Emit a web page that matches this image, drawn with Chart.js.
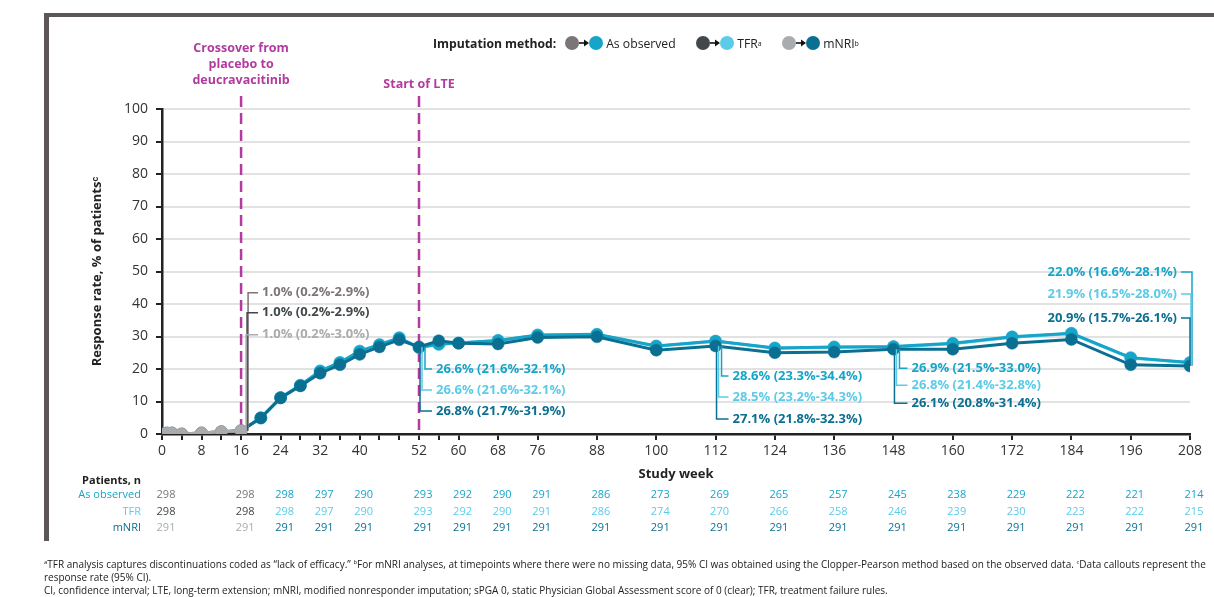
<!DOCTYPE html>
<html>
<head>
<meta charset="utf-8">
<script src="https://cdn.jsdelivr.net/npm/chart.js@4.4.1/dist/chart.umd.min.js"></script>
<style>
  body { margin: 0; background: #fff; font-family: "Open Sans", sans-serif; }
  #wrap { position: relative; width: 1214px; height: 597px; overflow: hidden; }
  #frameTop { position: absolute; left: 44px; top: 13px; width: 1170px; height: 4px; background: #5d5656; }
  #frameLeft { position: absolute; left: 44px; top: 13px; width: 5px; height: 528px; background: #5d5656; }
  canvas { position: absolute; left: 0; top: 0; }
  #legend { position: absolute; left: 433px; top: 34px; height: 18px; font-size: 12.2px; color: #222; white-space: nowrap; }
  #legend .item { position: absolute; top: 0; display: flex; align-items: center; height: 18px; }
  #legend i { display: inline-block; width: 14px; height: 14px; border-radius: 50%; }
  #legend sup { font-size: 7px; vertical-align: 6px; }
  #notes { position: absolute; left: 44px; top: 556px; width: 1170px; font-size: 10px; line-height: 13.2px; color: #222; white-space: nowrap; }
  #notes sup { font-size: 6px; vertical-align: 4px; }
</style>
</head>
<body>
<div id="wrap">
  <div id="frameTop"></div>
  <div id="frameLeft"></div>
  <canvas id="chart" width="1214" height="597"></canvas>
  <div id="legend">
    <span class="item" style="left:0"><b>Imputation method:</b></span>
    <span class="item" style="left:132px"><i style="background:#7b7575"></i><svg width="10" height="8"><line x1="0" y1="4" x2="6" y2="4" stroke="#111" stroke-width="1.6"/><path d="M5 0.5 L10 4 L5 7.5z" fill="#111"/></svg><i style="background:#16a5c9"></i>&nbsp;As observed</span>
    <span class="item" style="left:263px"><i style="background:#42484a"></i><svg width="10" height="8"><line x1="0" y1="4" x2="6" y2="4" stroke="#111" stroke-width="1.6"/><path d="M5 0.5 L10 4 L5 7.5z" fill="#111"/></svg><i style="background:#5ccbe8"></i>&nbsp;TFR<sup>a</sup></span>
    <span class="item" style="left:349px"><i style="background:#a8acae"></i><svg width="10" height="8"><line x1="0" y1="4" x2="6" y2="4" stroke="#111" stroke-width="1.6"/><path d="M5 0.5 L10 4 L5 7.5z" fill="#111"/></svg><i style="background:#0b6f91"></i>&nbsp;mNRI<sup>b</sup></span>
  </div>
  <div id="notes">
    <sup>a</sup>TFR analysis captures discontinuations coded as “lack of efficacy.” <sup>b</sup>For mNRI analyses, at timepoints where there were no missing data, 95% CI was obtained using the Clopper-Pearson method based on the observed data. <sup>c</sup>Data callouts represent the<br>
    response rate (95% CI).<br>
    CI, confidence interval; LTE, long-term extension; mNRI, modified nonresponder imputation; sPGA 0, static Physician Global Assessment score of 0 (clear); TFR, treatment failure rules.
  </div>
</div>
<script>
// placebo phase (weeks 0-16)
const placeboWeeks = [0, 1, 2, 4, 8, 12, 16];
const placeboObserved = [0, 0.3, 0.3, 0, 0.3, 0.7, 1.0];
const placeboTFR = [0, 0.3, 0.3, 0, 0.3, 0.7, 1.0];
const placeboNRI = [0, 0.3, 0.3, 0, 0.3, 0.7, 1.0];

// deucravacitinib phase (weeks 16-208)
const treatWeeks = [16, 20, 24, 28, 32, 36, 40, 44, 48, 52, 56, 60, 68, 76, 88, 100, 112, 124, 136, 148, 160, 172, 184, 196, 208];
const treatObserved = [1.0, 5.0, 11.2, 15.0, 19.4, 22.0, 25.5, 27.5, 29.6, 26.6, 27.6, 28.0, 28.8, 30.5, 30.7, 27.1, 28.6, 26.5, 26.8, 26.9, 27.9, 29.9, 31.0, 23.5, 22.0];
const treatTFR = [1.0, 5.0, 11.2, 15.0, 19.4, 22.0, 25.5, 27.5, 29.6, 26.6, 27.6, 28.0, 28.8, 30.4, 30.6, 27.0, 28.5, 26.4, 26.7, 26.8, 27.8, 29.8, 30.9, 23.4, 21.9];
const treatNRI = [1.0, 4.9, 11.1, 14.8, 18.7, 21.3, 24.5, 26.8, 29.0, 26.8, 28.7, 27.9, 27.7, 29.7, 29.9, 25.8, 27.1, 25.0, 25.2, 26.1, 26.1, 27.9, 29.1, 21.3, 20.9];

// axis ticks
const tickWeeks = [0, 4, 8, 12, 16, 20, 24, 28, 32, 36, 40, 44, 48, 52, 56, 60, 68, 76, 88, 100, 112, 124, 136, 148, 160, 172, 184, 196, 208];
const labelWeeks = [0, 8, 16, 24, 32, 40, 52, 60, 68, 76, 88, 100, 112, 124, 136, 148, 160, 172, 184, 196, 208];

// callouts
const calloutWeeks = [16, 52, 112, 148, 208];
const calloutObserved = ['1.0% (0.2%-2.9%)', '26.6% (21.6%-32.1%)', '28.6% (23.3%-34.4%)', '26.9% (21.5%-33.0%)', '22.0% (16.6%-28.1%)'];
const calloutTFR = ['1.0% (0.2%-2.9%)', '26.6% (21.6%-32.1%)', '28.5% (23.2%-34.3%)', '26.8% (21.4%-32.8%)', '21.9% (16.5%-28.0%)'];
const calloutNRI = ['1.0% (0.2%-3.0%)', '26.8% (21.7%-31.9%)', '27.1% (21.8%-32.3%)', '26.1% (20.8%-31.4%)', '20.9% (15.7%-26.1%)'];

// patients, n
const patientWeeks = [0, 16, 24, 32, 40, 52, 60, 68, 76, 88, 100, 112, 124, 136, 148, 160, 172, 184, 196, 208];
const patientsObserved = [298, 298, 298, 297, 290, 293, 292, 290, 291, 286, 273, 269, 265, 257, 245, 238, 229, 222, 221, 214];
const patientsTFR = [298, 298, 298, 297, 290, 293, 292, 290, 291, 286, 274, 270, 266, 258, 246, 239, 230, 223, 222, 215];
const patientsNRI = [291, 291, 291, 291, 291, 291, 291, 291, 291, 291, 291, 291, 291, 291, 291, 291, 291, 291, 291, 291];

const phaseWeeks = [16, 52];
const phaseLabels = [['Crossover from', 'placebo to', 'deucravacitinib'], ['Start of LTE']];

const BLUE = '#16a5c9', LIGHT = '#5ccbe8', DARK = '#0b6f91';
const GREY1 = '#7b7575', GREY2 = '#42484a', GREY3 = '#a8acae';
const MAGENTA = '#b33a9e';
const FONT = '"Open Sans", sans-serif';

function pts(xs, ys) {
  return xs.map((w, i) => ({x: w, y: ys[i]}));
}

function series(label, xs, ys, color, order, hideFirst) {
  return {
    label: label,
    data: pts(xs, ys),
    borderColor: color,
    backgroundColor: color,
    pointBackgroundColor: color,
    pointBorderColor: color,
    borderWidth: 3,
    pointRadius: ctx => (hideFirst && ctx.dataIndex === 0) ? 0 : 6,
    pointBorderWidth: 0.5,
    order: order
  };
}

const phasePlugin = {
  id: 'phases',
  beforeDatasetsDraw(chart) {
    const {ctx, scales: {x}, chartArea} = chart;
    ctx.save();
    ctx.strokeStyle = MAGENTA;
    ctx.lineWidth = 2.5;
    ctx.setLineDash([11, 6]);
    phaseWeeks.forEach(w => {
      const px = x.getPixelForValue(w);
      ctx.beginPath();
      ctx.moveTo(px, 96);
      ctx.lineTo(px, chartArea.bottom);
      ctx.stroke();
    });
    ctx.setLineDash([]);
    ctx.fillStyle = MAGENTA;
    ctx.font = 'bold 12.5px ' + FONT;
    ctx.textAlign = 'center';
    ctx.textBaseline = 'middle';
    phaseLabels.forEach((lines, k) => {
      const px = x.getPixelForValue(phaseWeeks[k]);
      const bottom = k === 0 ? 80 : 84;
      lines.forEach((t, i) => ctx.fillText(t, px, bottom - (lines.length - 1 - i) * 16));
    });
    ctx.restore();
  }
};

// label offsets from the mNRI point, in pixels
const calloutLayout = [
  {dx: 21, dys: [-138, -118, -96], vx: [7, 6, 5]},
  {dx: 17, dys: [22, 43, 64], vx: [6, 3, 1]},
  {dx: 17, dys: [30, 51, 73], vx: [6, 3, 1]},
  {dx: 18, dys: [19, 36, 54], vx: [6, 3, 1]},
  {dx: -13, dys: [-94, -72, -48], vx: [2, 1, 0]}
];

const calloutPlugin = {
  id: 'callouts',
  afterDatasetsDraw(chart) {
    const {ctx, scales: {x, y}} = chart;
    ctx.save();
    ctx.font = 'bold 13px ' + FONT;
    ctx.textBaseline = 'middle';
    ctx.lineWidth = 1.5;
    calloutWeeks.forEach((w, k) => {
      const lay = calloutLayout[k];
      const idx = treatWeeks.indexOf(w);
      const px = x.getPixelForValue(w);
      const py = y.getPixelForValue(treatNRI[idx]);
      const texts = [calloutObserved[k], calloutTFR[k], calloutNRI[k]];
      const colors = w <= 16 ? [GREY1, GREY2, GREY3] : [BLUE, LIGHT, DARK];
      const tx = px + lay.dx;
      const right = lay.dx > 0;
      ctx.textAlign = right ? 'left' : 'right';
      texts.forEach((t, i) => {
        const ly = py + lay.dys[i];
        ctx.strokeStyle = colors[i];
        ctx.beginPath();
        ctx.moveTo(px + lay.vx[i], py);
        ctx.lineTo(px + lay.vx[i], ly);
        ctx.lineTo(right ? tx - 4 : tx + 4, ly);
        ctx.stroke();
        ctx.fillStyle = colors[i];
        ctx.fillText(t, tx, ly);
      });
    });
    ctx.restore();
  },
  afterDraw(chart) {
    // patients table
    const {ctx, scales: {x}} = chart;
    ctx.save();
    ctx.textBaseline = 'middle';
    ctx.textAlign = 'right';
    ctx.font = 'bold 11px ' + FONT;
    ctx.fillStyle = '#222';
    ctx.fillText('Patients, n', 141, 481);
    ctx.font = '11px ' + FONT;
    const rows = [['As observed', patientsObserved, BLUE, GREY1], ['TFR', patientsTFR, LIGHT, GREY2], ['mNRI', patientsNRI, DARK, GREY3]];
    const rowY = [495, 512, 528];
    rows.forEach((r, i) => {
      ctx.textAlign = 'right';
      ctx.fillStyle = r[2];
      ctx.fillText(r[0], 141, rowY[i]);
      ctx.textAlign = 'center';
      patientWeeks.forEach((w, j) => {
        ctx.fillStyle = w <= 16 ? r[3] : r[2];
        ctx.fillText(String(r[1][j]), x.getPixelForValue(w) + 4, rowY[i]);
      });
    });
    ctx.restore();
  }
};

new Chart(document.getElementById('chart'), {
  type: 'line',
  data: {
    datasets: [
      series('As observed (placebo)', placeboWeeks, placeboObserved, GREY1, -2, false),
      series('TFR (placebo)', placeboWeeks, placeboTFR, GREY2, -1, false),
      series('mNRI (placebo)', placeboWeeks, placeboNRI, GREY3, -3, false),
      series('As observed', treatWeeks, treatObserved, BLUE, 2, true),
      series('TFR', treatWeeks, treatTFR, LIGHT, 3, true),
      series('mNRI', treatWeeks, treatNRI, DARK, 1, true)
    ]
  },
  options: {
    responsive: false,
    animation: false,
    layout: {padding: {left: 60, top: 109, right: 24, bottom: 113}},
    plugins: {legend: {display: false}, tooltip: {enabled: false}},
    scales: {
      x: {
        type: 'linear',
        min: 0,
        max: 208,
        afterBuildTicks: s => { s.ticks = tickWeeks.map(v => ({value: v})); },
        afterFit: s => { s.height = 50; },
        ticks: {
          autoSkip: false,
          maxRotation: 0,
          padding: 3,
          color: '#333',
          font: {family: FONT, size: 14},
          callback: v => labelWeeks.includes(v) ? String(v) : ''
        },
        grid: {drawOnChartArea: false, tickLength: 6, color: '#222', lineWidth: 2},
        border: {color: '#222', width: 2.5},
        title: {display: true, text: 'Study week', color: '#222', font: {family: FONT, size: 13, weight: 'bold'}, padding: {top: 0, bottom: 2}}
      },
      y: {
        min: 0,
        max: 100,
        afterFit: s => { s.width = 102; },
        ticks: {stepSize: 10, padding: 8, color: '#333', font: {family: FONT, size: 14}},
        grid: {
          color: ctx => ctx.tick && ctx.tick.value === 0 ? 'rgba(0,0,0,0)' : '#e2e2e2',
          lineWidth: 2,
          tickColor: '#222',
          tickLength: 6
        },
        border: {color: '#222', width: 2.5},
        title: {display: true, text: 'Response rate, % of patients\u1D9C', color: '#222', font: {family: FONT, size: 13, weight: 'bold'}, padding: {top: 29, bottom: 0}}
      }
    }
  },
  plugins: [phasePlugin, calloutPlugin]
});
</script>
</body>
</html>
